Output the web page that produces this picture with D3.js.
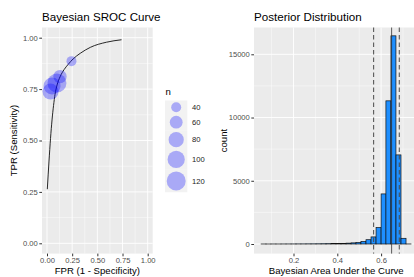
<html>
<head>
<script src="https://d3js.org/d3.v7.min.js"></script>
<style>
  body { margin: 0; background: #fff; }
  text { font-family: "Liberation Sans", Arial, sans-serif; }
  .tick text { fill: #4d4d4d; font-size: 7.6px; }
  .tick line { stroke: #333; }
</style>
</head>
<body>
<svg width="414" height="277"></svg>
<script>
// SROC curve
var curveFPR = [0.003, 0.02, 0.035, 0.05, 0.065, 0.08, 0.10, 0.13, 0.17, 0.21, 0.26, 0.33, 0.43, 0.59, 0.74];
var curveTPR = [0.263, 0.40, 0.51, 0.60, 0.67, 0.725, 0.77, 0.81, 0.845, 0.87, 0.897, 0.924, 0.953, 0.978, 0.99];

// studies (bubbles)
var studyFPR = [0.243, 0.129, 0.099, 0.05, 0.035];
var studyTPR = [0.886, 0.811, 0.78, 0.765, 0.738];
var studyN   = [40, 64, 120, 98, 88];

var legendN = [40, 60, 80, 100, 120];

// posterior histogram, 30 bins
var binLo = [0.052, 0.074, 0.097, 0.120, 0.143, 0.166, 0.189, 0.211, 0.234, 0.257,
             0.280, 0.303, 0.326, 0.348, 0.371, 0.394, 0.417, 0.440, 0.463, 0.485,
             0.508, 0.531, 0.554, 0.577, 0.600, 0.622, 0.645, 0.668, 0.691, 0.714];
var binCount = [2, 1, 3, 2, 4, 5, 6, 8, 9, 12,
                14, 17, 22, 27, 33, 42, 52, 68, 90, 125,
                200, 340, 560, 1300, 3960, 11320, 16460, 7045, 450, 4];
var binWidth = 0.0228;

var ciLines = [0.566, 0.683];   // dashed
var medLine = 0.648;            // solid

var xTicksL = [0, 0.25, 0.5, 0.75, 1];
var yTicksL = [0, 0.25, 0.5, 0.75, 1];
var xTicksR = [0.2, 0.4, 0.6];
var yTicksR = [0, 5000, 10000, 15000];

var svg = d3.select("svg");

// ---------- left panel ----------
var pL = {x0: 42, x1: 152.7, y0: 27.5, y1: 253.6};
var xL = d3.scaleLinear().domain([0, 1]).range([47, 147.7]);
var yL = d3.scaleLinear().domain([0, 1]).range([243.3, 37.7]);
var rScale = d3.scaleRadial().domain([40, 120]).range([5, 9.5]);

var gL = svg.append("g");
gL.append("rect").attr("x", pL.x0).attr("y", pL.y0)
  .attr("width", pL.x1 - pL.x0).attr("height", pL.y1 - pL.y0).attr("fill", "#ebebeb");

var minorL = [0.125, 0.375, 0.625, 0.875];
gL.selectAll(".mx").data(minorL).enter().append("line")
  .attr("x1", d => xL(d)).attr("x2", d => xL(d)).attr("y1", pL.y0).attr("y2", pL.y1)
  .attr("stroke", "#fff").attr("stroke-width", 0.45);
gL.selectAll(".my").data(minorL).enter().append("line")
  .attr("y1", d => yL(d)).attr("y2", d => yL(d)).attr("x1", pL.x0).attr("x2", pL.x1)
  .attr("stroke", "#fff").attr("stroke-width", 0.45);
gL.selectAll(".gx").data(xTicksL).enter().append("line")
  .attr("x1", d => xL(d)).attr("x2", d => xL(d)).attr("y1", pL.y0).attr("y2", pL.y1)
  .attr("stroke", "#fff").attr("stroke-width", 0.9);
gL.selectAll(".gy").data(yTicksL).enter().append("line")
  .attr("y1", d => yL(d)).attr("y2", d => yL(d)).attr("x1", pL.x0).attr("x2", pL.x1)
  .attr("stroke", "#fff").attr("stroke-width", 0.9);

var curve = d3.line()
  .x(function(d, i) { return xL(curveFPR[i]); })
  .y(function(d, i) { return yL(curveTPR[i]); })
  .curve(d3.curveMonotoneX);
gL.append("path").datum(curveFPR).attr("d", curve)
  .attr("fill", "none").attr("stroke", "#111").attr("stroke-width", 0.9);

gL.selectAll(".pt").data(studyN).enter().append("circle")
  .attr("cx", (d, i) => xL(studyFPR[i])).attr("cy", (d, i) => yL(studyTPR[i]))
  .attr("r", d => rScale(d)).attr("fill", "blue").attr("fill-opacity", 0.3);

gL.append("g").attr("transform", "translate(0," + pL.y1 + ")")
  .call(d3.axisBottom(xL).tickValues(xTicksL).tickFormat(d3.format(".2f")).tickSize(2.7).tickPadding(1.5))
  .call(g => g.select(".domain").remove());
gL.append("g").attr("transform", "translate(" + pL.x0 + ",0)")
  .call(d3.axisLeft(yL).tickValues(yTicksL).tickFormat(d3.format(".2f")).tickSize(2.7).tickPadding(1.5))
  .call(g => g.select(".domain").remove());

svg.append("text").attr("x", pL.x0).attr("y", 20.5).attr("font-size", 11.6).text("Bayesian SROC Curve");
svg.append("text").attr("x", (pL.x0 + pL.x1) / 2).attr("y", 273.5).attr("text-anchor", "middle")
  .attr("font-size", 9.6).text("FPR (1 - Specificity)");
svg.append("text").attr("transform", "translate(16.8," + ((pL.y0 + pL.y1) / 2) + ") rotate(-90)")
  .attr("text-anchor", "middle").attr("font-size", 9.6).text("TPR (Sensitivity)");

// legend
svg.append("text").attr("x", 165.5).attr("y", 95).attr("font-size", 9.6).text("n");
var ly = 100.5;
legendN.forEach(function(n) {
  var r = rScale(n), h = 2 * r + 3.5;
  svg.append("rect").attr("x", 165).attr("y", ly).attr("width", 22.3).attr("height", h).attr("fill", "#f2f2f2");
  svg.append("circle").attr("cx", 176.2).attr("cy", ly + h / 2).attr("r", r)
    .attr("fill", "blue").attr("fill-opacity", 0.3);
  svg.append("text").attr("x", 192).attr("y", ly + h / 2).attr("dy", "0.35em")
    .attr("font-size", 7.6).attr("fill", "#1a1a1a").text(n);
  ly += h;
});

// ---------- right panel ----------
var pR = {x0: 254, x1: 418.5, y0: 27.5, y1: 253.6};
var xR = d3.scaleLinear().domain([0.2, 0.6]).range([293.5, 381.1]);
var yR = d3.scaleLinear().domain([0, 15000]).range([244, 54.3]);

var gR = svg.append("g");
gR.append("rect").attr("x", pR.x0).attr("y", pR.y0)
  .attr("width", pR.x1 - pR.x0).attr("height", pR.y1 - pR.y0).attr("fill", "#ebebeb");

var minorRx = [0.1, 0.3, 0.5, 0.7], minorRy = [2500, 7500, 12500];
gR.selectAll(".mx").data(minorRx).enter().append("line")
  .attr("x1", d => xR(d)).attr("x2", d => xR(d)).attr("y1", pR.y0).attr("y2", pR.y1)
  .attr("stroke", "#fff").attr("stroke-width", 0.45);
gR.selectAll(".my").data(minorRy).enter().append("line")
  .attr("y1", d => yR(d)).attr("y2", d => yR(d)).attr("x1", pR.x0).attr("x2", pR.x1)
  .attr("stroke", "#fff").attr("stroke-width", 0.45);
gR.selectAll(".gx").data(xTicksR).enter().append("line")
  .attr("x1", d => xR(d)).attr("x2", d => xR(d)).attr("y1", pR.y0).attr("y2", pR.y1)
  .attr("stroke", "#fff").attr("stroke-width", 0.9);
gR.selectAll(".gy").data(yTicksR).enter().append("line")
  .attr("y1", d => yR(d)).attr("y2", d => yR(d)).attr("x1", pR.x0).attr("x2", pR.x1)
  .attr("stroke", "#fff").attr("stroke-width", 0.9);

gR.selectAll(".bar").data(binCount).enter().append("rect")
  .attr("x", (d, i) => xR(binLo[i])).attr("width", xR(binLo[0] + binWidth) - xR(binLo[0]))
  .attr("y", d => yR(d)).attr("height", d => yR(0) - yR(d))
  .attr("fill", "#1e8fff").attr("stroke", "#111").attr("stroke-width", 0.7);

gR.selectAll(".ci").data(ciLines).enter().append("line")
  .attr("x1", d => xR(d)).attr("x2", d => xR(d)).attr("y1", pR.y0).attr("y2", pR.y1)
  .attr("stroke", "#4a4a4a").attr("stroke-width", 1).attr("stroke-dasharray", "4.5,3");
gR.append("line").attr("x1", xR(medLine)).attr("x2", xR(medLine)).attr("y1", pR.y0).attr("y2", pR.y1)
  .attr("stroke", "#333").attr("stroke-width", 0.8);

gR.append("g").attr("transform", "translate(0," + pR.y1 + ")")
  .call(d3.axisBottom(xR).tickValues(xTicksR).tickFormat(d3.format(".1f")).tickSize(2.7).tickPadding(1.5))
  .call(g => g.select(".domain").remove());
gR.append("g").attr("transform", "translate(" + pR.x0 + ",0)")
  .call(d3.axisLeft(yR).tickValues(yTicksR).tickFormat(d3.format("d")).tickSize(2.7).tickPadding(1.5))
  .call(g => g.select(".domain").remove());

svg.append("text").attr("x", pR.x0).attr("y", 20.5).attr("font-size", 11.6).text("Posterior Distribution");
svg.append("text").attr("x", (pR.x0 + pR.x1) / 2).attr("y", 273.5).attr("text-anchor", "middle")
  .attr("font-size", 9.6).text("Bayesian Area Under the Curve");
svg.append("text").attr("transform", "translate(226.5," + ((pR.y0 + pR.y1) / 2) + ") rotate(-90)")
  .attr("text-anchor", "middle").attr("font-size", 9.6).text("count");
</script>
</body>
</html>
